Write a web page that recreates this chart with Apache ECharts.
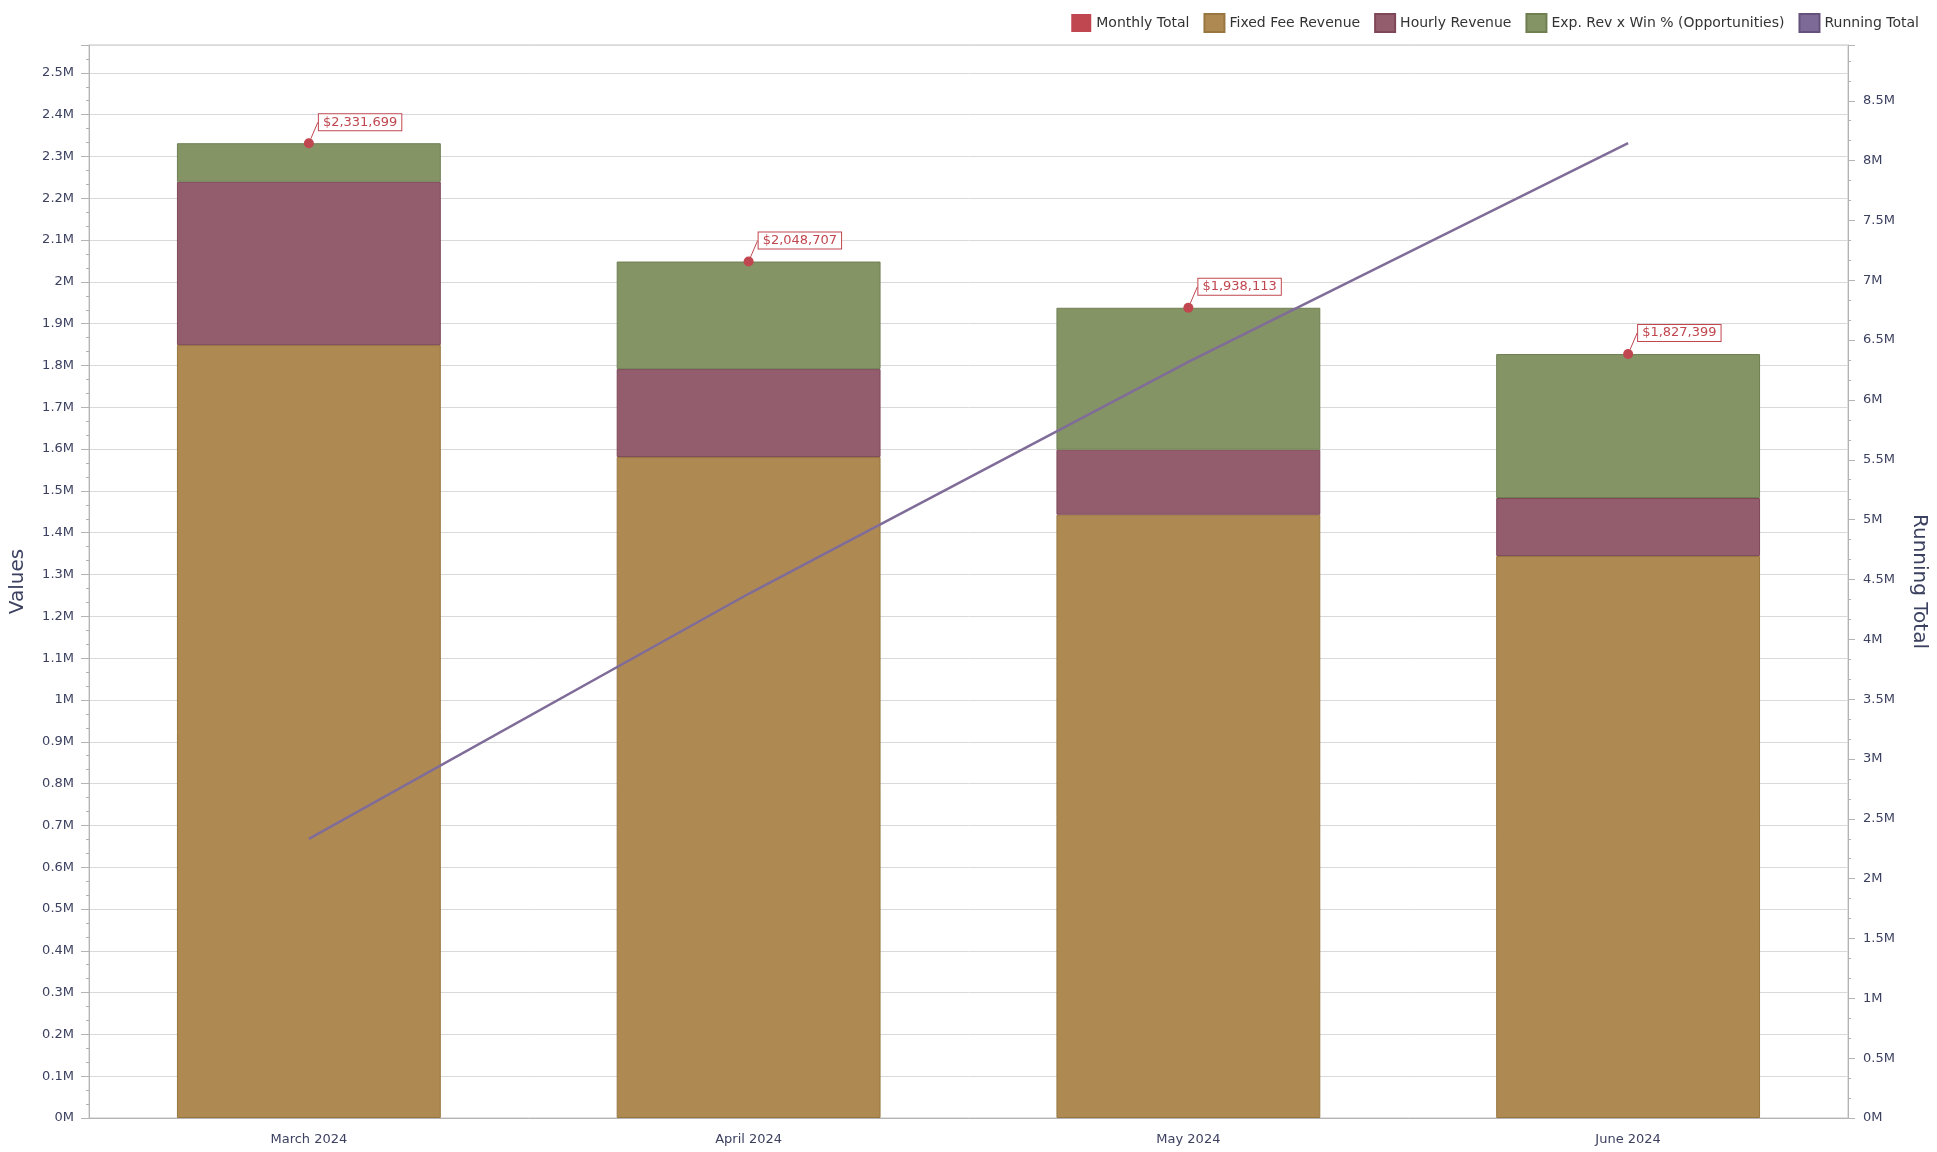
<!DOCTYPE html>
<html lang="en" style="height: 100%">
<head>
  <meta charset="utf-8">
</head>
<body style="height: 100%; margin: 0; background: #fff">
<div id="container" style="height: 100%"></div>
<script type="text/javascript" src="https://cdn.jsdelivr.net/npm/echarts@6/dist/echarts.min.js"></script>
<script type="text/javascript">
  // data
  var months = ['March 2024', 'April 2024', 'May 2024', 'June 2024'];
  var fixedFee = [1848800, 1581000, 1443000, 1344200];
  var hourly = [390600, 210400, 155500, 138800];
  var expRev = [92299, 257307, 339613, 344399];
  var monthlyTotal = [2331699, 2048707, 1938113, 1827399];
  var runningTotal = [2331699, 4380406, 6318519, 8145918];

  // small ticks on the x axis: 5 per month
  var subTicks = [];
  for (var i = 0; i < months.length * 5; i++) subTicks.push('');

  var font = 'DejaVu Sans';
  var textColor = '#3c4160';
  var axisColor = '#b4b4b4';

  var dom = document.getElementById('container');
  var myChart = echarts.init(dom, null, { renderer: 'canvas' });

  function fmtM(v) {
    return (Math.round(v / 100000) / 10) + 'M';
  }

  var option = {
    animation: false,
    textStyle: { fontFamily: font },
    legend: {
      right: 13,
      top: 8,
      icon: 'rect',
      itemWidth: 20,
      itemHeight: 18,
      itemGap: 14,
      textStyle: { fontFamily: font, fontSize: 14, color: '#333' },
      data: ['Monthly Total', 'Fixed Fee Revenue', 'Hourly Revenue',
             'Exp. Rev x Win % (Opportunities)', 'Running Total']
    },
    grid: {
      left: 89, right: 89, top: 45, bottom: 34,
      outerBoundsMode: 'none',
      containLabel: false,
      show: true, borderColor: '#c4c4c4', borderWidth: 1
    },
    xAxis: [
      {
        type: 'category',
        data: months,
        axisLine: { lineStyle: { color: axisColor } },
        axisTick: { alignWithLabel: true, length: 7, lineStyle: { color: axisColor } },
        axisLabel: { color: textColor, fontSize: 13, margin: 15, fontFamily: font }
      },
      {
        type: 'category',
        data: subTicks,
        position: 'bottom',
        axisLine: { show: false },
        axisTick: { alignWithLabel: true, length: 4, lineStyle: { color: axisColor } },
        axisLabel: { show: false }
      }
    ],
    yAxis: [
      {
        type: 'value',
        name: 'Values',
        nameLocation: 'middle',
        nameGap: 61,
        nameTextStyle: { fontSize: 20, color: textColor, fontFamily: font },
        min: 0,
        max: 2566667,
        interval: 100000,
        axisLine: { show: true, lineStyle: { color: axisColor } },
        axisTick: { show: true, length: 8, lineStyle: { color: axisColor } },
        minorTick: { show: true, splitNumber: 3, length: 3, lineStyle: { color: axisColor } },
        splitLine: { lineStyle: { color: '#d9d9d9' } },
        axisLabel: {
          color: textColor, fontSize: 13, margin: 15, fontFamily: font,
          showMaxLabel: false,
          formatter: fmtM
        }
      },
      {
        type: 'value',
        name: 'Running Total',
        nameLocation: 'middle',
        nameRotate: -90,
        nameGap: 61,
        nameTextStyle: { fontSize: 20, color: textColor, fontFamily: font },
        min: 0,
        max: 8966000,
        interval: 500000,
        axisLine: { show: true, lineStyle: { color: axisColor } },
        axisTick: { show: true, length: 7, lineStyle: { color: axisColor } },
        minorTick: { show: true, splitNumber: 3, length: 3, lineStyle: { color: axisColor } },
        splitLine: { show: false },
        axisLabel: {
          color: textColor, fontSize: 13, margin: 15, fontFamily: font,
          showMaxLabel: false,
          formatter: fmtM
        }
      }
    ],
    series: [
      {
        name: 'Fixed Fee Revenue',
        type: 'bar',
        stack: 'rev',
        barWidth: '60%',
        data: fixedFee,
        itemStyle: { color: '#ae8a52', borderColor: '#98763f', borderWidth: 1 }
      },
      {
        name: 'Hourly Revenue',
        type: 'bar',
        stack: 'rev',
        data: hourly,
        itemStyle: { color: '#945d6e', borderColor: '#7e4859', borderWidth: 1 }
      },
      {
        name: 'Exp. Rev x Win % (Opportunities)',
        type: 'bar',
        stack: 'rev',
        data: expRev,
        itemStyle: { color: '#849465', borderColor: '#6f7f52', borderWidth: 1 }
      },
      {
        name: 'Running Total',
        type: 'line',
        yAxisIndex: 1,
        data: runningTotal,
        showSymbol: false,
        symbol: 'none',
        z: 5,
        itemStyle: { color: '#7e6a96', borderColor: '#65527c', borderWidth: 1 },
        lineStyle: { color: '#806c98', width: 2.5 }
      },
      {
        name: 'Monthly Total',
        type: 'scatter',
        data: monthlyTotal,
        symbolSize: 10,
        z: 6,
        itemStyle: { color: '#c0474f', opacity: 1, borderColor: '#a8363e', borderWidth: 0 },
        label: {
          show: true,
          position: 'right',
          distance: 5,
          formatter: function (p) {
            return '$' + p.value.toLocaleString('en-US');
          },
          color: '#c0474f',
          fontSize: 13,
          fontFamily: font,
          backgroundColor: '#fff',
          borderColor: '#c0474f',
          borderWidth: 1,
          padding: [2, 4, 1, 4]
        },
        labelLayout: { dy: -21 },
        labelLine: { show: true, lineStyle: { color: '#c0474f', width: 1 } }
      }
    ]
  };

  myChart.setOption(option);
  window.addEventListener('resize', myChart.resize);
</script>
</body>
</html>
